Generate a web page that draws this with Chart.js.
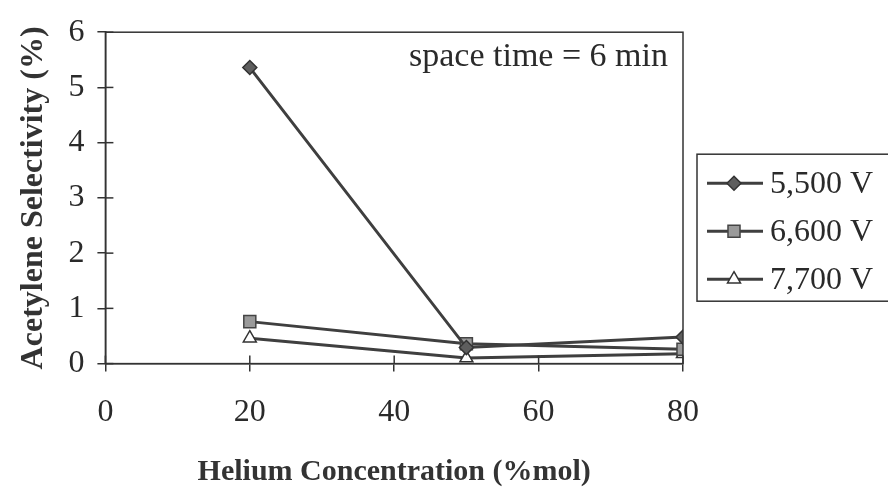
<!DOCTYPE html>
<html>
<head>
<meta charset="utf-8">
<script src="https://cdn.jsdelivr.net/npm/chart.js@4.4.0/dist/chart.umd.min.js"></script>
<style>
  body { margin: 0; background: #fff; }
  #wrap { width: 888px; height: 492px; }
</style>
</head>
<body>
<div id="wrap"><canvas id="myChart" width="888" height="492"></canvas></div>
<script>
const helium = [20, 50, 80];
const sel5500 = [5.36, 0.29, 0.48];
const sel6600 = [0.76, 0.36, 0.26];
const sel7700 = [0.46, 0.10, 0.18];
const seriesNames = ['5,500 V', '6,600 V', '7,700 V'];
const xTicks = [0, 20, 40, 60, 80];
const yTicks = [0, 1, 2, 3, 4, 5, 6];

const serif = "'Liberation Serif', 'Times New Roman', serif";
const ink = '#333';

function pts(vals) {
	return helium.map((x, i) => ({ x: x, y: vals[i] }));
}

const styles = [
	{ pointStyle: 'rectRot', radius: 7, fill: '#5e5e5e', stroke: '#333' },
	{ pointStyle: 'rect', radius: 8.5, fill: '#9a9a9a', stroke: '#444' },
	{ pointStyle: 'triangle', radius: 7.5, fill: '#ffffff', stroke: '#333' }
];

function ds(label, vals, s) {
	return {
		label: label,
		data: pts(vals),
		showLine: true,
		borderColor: '#3f3f3f',
		borderWidth: 3,
		pointStyle: s.pointStyle,
		pointRadius: s.radius,
		pointBackgroundColor: s.fill,
		pointBorderColor: s.stroke,
		pointBorderWidth: 1.5,
		tension: 0
	};
}

// box round the plot, inner tick marks, note and legend
const extras = {
	id: 'extras',
	afterDraw(chart) {
		const { ctx, chartArea: a, scales } = chart;
		ctx.save();
		ctx.strokeStyle = ink;
		ctx.lineWidth = 1.5;
		ctx.strokeRect(a.left, a.top, a.right - a.left, a.bottom - a.top);
		yTicks.forEach(v => {
			const y = scales.y.getPixelForValue(v);
			ctx.beginPath(); ctx.moveTo(a.left, y); ctx.lineTo(a.left + 8, y); ctx.stroke();
		});
		xTicks.forEach(v => {
			const x = scales.x.getPixelForValue(v);
			ctx.beginPath(); ctx.moveTo(x, a.bottom); ctx.lineTo(x, a.bottom - 8); ctx.stroke();
		});

		ctx.fillStyle = '#2a2a2a';
		ctx.font = '34px ' + serif;
		ctx.textAlign = 'right';
		ctx.textBaseline = 'middle';
		ctx.fillText('space time = 6 min', a.right - 15, a.top + 25);

		// legend
		const lx = a.right + 14, ly = a.top + 122;
		ctx.lineWidth = 1.5;
		ctx.strokeRect(lx, ly, 210, 147);
		ctx.font = '32px ' + serif;
		ctx.textAlign = 'left';
		seriesNames.forEach((name, i) => {
			const y = ly + 29 + i * 48;
			ctx.strokeStyle = '#3f3f3f';
			ctx.lineWidth = 3;
			ctx.beginPath(); ctx.moveTo(lx + 10, y); ctx.lineTo(lx + 66, y); ctx.stroke();
			const s = styles[i];
			ctx.fillStyle = s.fill;
			ctx.strokeStyle = s.stroke;
			ctx.lineWidth = 1.5;
			Chart.helpers.drawPoint(ctx, { pointStyle: s.pointStyle, radius: s.radius, rotation: 0, borderWidth: 1.5 }, lx + 37, y);
			ctx.fillStyle = '#2a2a2a';
			ctx.fillText(name, lx + 73, y + 1);
		});
		ctx.restore();
	}
};

const ctx = document.getElementById('myChart').getContext('2d');
const myChart = new Chart(ctx, {
	type: 'scatter',
	data: {
		datasets: [
			ds(seriesNames[0], sel5500, styles[0]),
			ds(seriesNames[1], sel6600, styles[1]),
			ds(seriesNames[2], sel7700, styles[2])
		]
	},
	options: {
		responsive: false,
		animation: false,
		devicePixelRatio: 1,
		layout: { padding: { top: 20, right: 205, bottom: 2, left: 15 } },
		plugins: {
			legend: { display: false },
			tooltip: { enabled: false }
		},
		scales: {
			x: {
				type: 'linear',
				min: 0,
				max: 80,
				afterBuildTicks: s => { s.ticks = xTicks.map(v => ({ value: v })); },
				grid: { drawOnChartArea: false, tickLength: 8, color: ink, lineWidth: 1.5 },
				border: { display: true, color: ink, width: 1.5 },
				ticks: { color: '#2a2a2a', font: { family: serif, size: 32 }, padding: 22 },
				title: {
					display: true,
					text: 'Helium Concentration (%mol)',
					color: '#333',
					font: { family: serif, size: 30, weight: 'bold' },
					padding: { top: 0, bottom: 0 }
				}
			},
			y: {
				min: 0,
				max: 6,
				afterBuildTicks: s => { s.ticks = yTicks.map(v => ({ value: v })); },
				grid: { drawOnChartArea: false, tickLength: 8, color: ink, lineWidth: 1.5 },
				border: { display: true, color: ink, width: 1.5 },
				ticks: { color: '#2a2a2a', font: { family: serif, size: 32 }, padding: 13 },
				title: {
					display: true,
					text: 'Acetylene Selectivity (%)',
					color: '#333',
					font: { family: serif, size: 32, weight: 'bold' },
					padding: { top: 0, bottom: 2 }
				}
			}
		}
	},
	plugins: [extras]
});
</script>
</body>
</html>
